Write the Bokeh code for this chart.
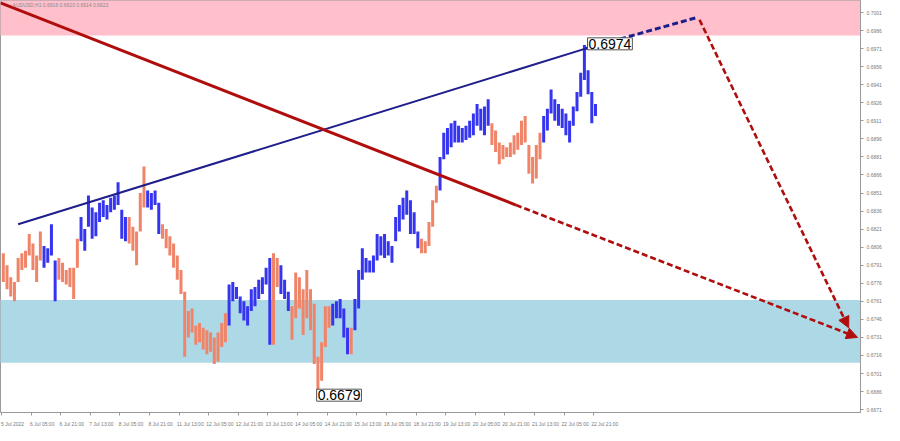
from bokeh.plotting import figure
from bokeh.models import Range1d, FixedTicker, Label, Arrow, NormalHead, PrintfTickFormatter
from bokeh.embed import file_html
from bokeh.resources import INLINE

# ---- price data (AUDUSD, 2-hour bars) ----
bar_high = [0.6801, 0.6791, 0.6781, 0.6777, 0.6797, 0.6801, 0.6803, 0.6817, 0.6809, 0.6799,
            0.6819, 0.6807, 0.6805, 0.6825, 0.6795, 0.6797, 0.6793, 0.6787, 0.6789, 0.6789,
            0.6813, 0.6831, 0.6821, 0.6849, 0.6839, 0.6835, 0.6843, 0.6845, 0.6841, 0.6847,
            0.6849, 0.6860, 0.6837, 0.6831, 0.6831, 0.6823, 0.6819, 0.6851, 0.6873, 0.6853,
            0.6851, 0.6853, 0.6843, 0.6825, 0.6821, 0.6815, 0.6809, 0.6799, 0.6787, 0.6769,
            0.6753, 0.6755, 0.6741, 0.6743, 0.6739, 0.6737, 0.6735, 0.6731, 0.6735, 0.6743,
            0.6751, 0.6775, 0.6777, 0.6773, 0.6765, 0.6761, 0.6757, 0.6771, 0.6773, 0.6779,
            0.6781, 0.6789, 0.6797, 0.6801, 0.6797, 0.6791, 0.6779, 0.6769, 0.6757, 0.6785,
            0.6781, 0.6771, 0.6787, 0.6771, 0.6759, 0.6715, 0.6727, 0.6757, 0.6757, 0.6759,
            0.6761, 0.6763, 0.6755, 0.6739, 0.6739, 0.6763, 0.6787, 0.6805, 0.6797, 0.6795,
            0.6799, 0.6817, 0.6815, 0.6817, 0.6811, 0.6807, 0.6831, 0.6841, 0.6847, 0.6853,
            0.6845, 0.6835, 0.6819, 0.6813, 0.6811, 0.6827, 0.6845, 0.6857, 0.6881, 0.6901,
            0.6905, 0.6909, 0.6911, 0.6907, 0.6905, 0.6907, 0.6911, 0.6917, 0.6925, 0.6921,
            0.6923, 0.6929, 0.6909, 0.6903, 0.6893, 0.6891, 0.6889, 0.6893, 0.6899, 0.6901,
            0.6911, 0.6915, 0.6891, 0.6881, 0.6891, 0.6901, 0.6915, 0.6921, 0.6937, 0.6929,
            0.6925, 0.6921, 0.6917, 0.6911, 0.6923, 0.6935, 0.6951, 0.6974, 0.6953, 0.6935,
            0.6925]
bar_low = [0.6777, 0.6771, 0.6765, 0.6761, 0.6777, 0.6787, 0.6789, 0.6799, 0.6787, 0.6777,
           0.6795, 0.6789, 0.6793, 0.6799, 0.6761, 0.6779, 0.6777, 0.6775, 0.6773, 0.6763,
           0.6789, 0.6811, 0.6803, 0.6823, 0.6813, 0.6815, 0.6827, 0.6831, 0.6829, 0.6835,
           0.6837, 0.6841, 0.6813, 0.6811, 0.6809, 0.6803, 0.6791, 0.6819, 0.6839, 0.6839,
           0.6837, 0.6841, 0.6817, 0.6813, 0.6805, 0.6799, 0.6789, 0.6779, 0.6767, 0.6715,
           0.6731, 0.6735, 0.6725, 0.6727, 0.6721, 0.6717, 0.6719, 0.6709, 0.6711, 0.6723,
           0.6727, 0.6741, 0.6761, 0.6763, 0.6751, 0.6745, 0.6741, 0.6753, 0.6757, 0.6763,
           0.6767, 0.6775, 0.6725, 0.6725, 0.6773, 0.6767, 0.6763, 0.6753, 0.6729, 0.6747,
           0.6755, 0.6733, 0.6747, 0.6737, 0.6709, 0.6679, 0.6695, 0.6723, 0.6739, 0.6741,
           0.6747, 0.6747, 0.6731, 0.6717, 0.6717, 0.6737, 0.6755, 0.6779, 0.6785, 0.6785,
           0.6785, 0.6795, 0.6799, 0.6797, 0.6799, 0.6793, 0.6811, 0.6819, 0.6829, 0.6833,
           0.6817, 0.6817, 0.6805, 0.6801, 0.6801, 0.6807, 0.6823, 0.6843, 0.6853, 0.6879,
           0.6883, 0.6889, 0.6893, 0.6893, 0.6893, 0.6895, 0.6897, 0.6899, 0.6907, 0.6903,
           0.6899, 0.6907, 0.6891, 0.6885, 0.6875, 0.6879, 0.6881, 0.6881, 0.6883, 0.6887,
           0.6891, 0.6893, 0.6867, 0.6859, 0.6863, 0.6879, 0.6893, 0.6903, 0.6917, 0.6911,
           0.6907, 0.6905, 0.6899, 0.6893, 0.6907, 0.6919, 0.6931, 0.6945, 0.6933, 0.6909,
           0.6915]
# wave segments: (direction, number of bars)
wave_runs = [("down", 11), ("up", 4), ("down", 6), ("up", 13), ("down", 5), ("up", 4),
             ("down", 18), ("up", 12), ("down", 2), ("up", 3), ("down", 11), ("up", 5),
             ("down", 1), ("up", 18), ("down", 5), ("up", 14), ("down", 14), ("up", 15)]

# time axis: hours from 5 Jul 2022 13:00 (trading hours only)
tick_hours = [0, 16, 32, 48, 64, 80, 96, 112, 128, 144, 160, 176, 192, 208, 224, 240,
              256, 272, 288, 304, 320]
tick_labels = ["5 Jul 2022", "6 Jul 05:00", "6 Jul 21:00", "7 Jul 13:00", "8 Jul 05:00",
               "8 Jul 21:00", "11 Jul 13:00", "12 Jul 05:00", "12 Jul 21:00", "13 Jul 13:00",
               "14 Jul 05:00", "14 Jul 21:00", "15 Jul 13:00", "18 Jul 05:00", "18 Jul 21:00",
               "19 Jul 13:00", "20 Jul 05:00", "20 Jul 21:00", "21 Jul 13:00", "22 Jul 05:00",
               "22 Jul 21:00"]
price_ticks = [0.7001, 0.6986, 0.6971, 0.6956, 0.6941, 0.6926, 0.6911, 0.6896, 0.6881,
               0.6866, 0.6851, 0.6836, 0.6821, 0.6806, 0.6791, 0.6776, 0.6761, 0.6746,
               0.6731, 0.6716, 0.6701, 0.6686, 0.6671]

# zones
resist_zone = (0.6982, 0.7020)
support_zone = (0.6710, 0.6762)

# wave lines (hour, price)
channel_pts = [(9.0, 0.6825), (315.6, 0.6971)]
channel_ext = [(315.6, 0.6971), (376.1, 0.6997)]
trend_pts = [(-0.53, 0.7009), (278.0, 0.6841)]
trend_ext = [(278.0, 0.6841), (462.6, 0.6731)]
forecast = [(377.2, 0.6995), (457.8, 0.6739)]
peak_label = (316.7, 0.6975, "0.6974")
low_label = (170.3, 0.6683, "0.6679")

# ---- figure ----
X0, X1 = -0.53, 464.2
Y0, Y1 = 0.66686, 0.7011
p = figure(frame_width=860, frame_height=412, x_range=Range1d(X0, X1),
           y_range=Range1d(Y0, Y1), output_backend="svg", toolbar_location=None,
           y_axis_location="right", min_border_left=0, min_border_top=0,
           min_border_right=24, min_border_bottom=13)
p.background_fill_color = "white"
p.border_fill_color = "white"
p.outline_line_color = "#9a9a9a"
p.grid.visible = False

p.quad(left=X0 - 5, right=X1 + 5, bottom=resist_zone[0], top=resist_zone[1],
       fill_color="#ffc0cb", line_color=None)
p.quad(left=X0 - 5, right=X1 + 5, bottom=support_zone[0], top=support_zone[1],
       fill_color="#add8e6", line_color=None)

colors = []
for d, n in wave_runs:
    colors += [("#3535f0" if d == "up" else "#f08468")] * n
hours = [2 * i + 1 for i in range(len(bar_high))]
p.segment(x0=hours, y0=bar_low, x1=hours, y1=bar_high, line_color=colors, line_width=3.0)

# lines
p.line([a for a, b in channel_pts], [b for a, b in channel_pts], line_color="#1e1e8c", line_width=2)
p.line([a for a, b in channel_ext], [b for a, b in channel_ext], line_color="#1e1e8c",
       line_width=3, line_dash="6 3")
p.line([a for a, b in trend_pts], [b for a, b in trend_pts], line_color="#b00d0d", line_width=3)
for pts in (trend_ext, forecast):
    p.add_layout(Arrow(x_start=pts[0][0], y_start=pts[0][1], x_end=pts[1][0], y_end=pts[1][1],
                       line_color="#b00d0d", line_width=2.6, line_dash="6 3",
                       end=NormalHead(size=11, fill_color="#b00d0d", line_color="#b00d0d")))

for (lx, ly, lt) in (peak_label, low_label):
    p.add_layout(Label(x=lx, y=ly, text=lt, text_font="Liberation Sans",
                       text_font_size="14px", text_color="black", text_baseline="middle",
                       background_fill_color="white", border_line_color="#555555",
                       padding=1))

p.add_layout(Label(x=6, y=0.70075, text="AUDUSD,H1  0.6916 0.6923 0.6914 0.6923",
                   text_font="Liberation Sans", text_font_size="5px",
                   text_color="#8a8a8a", text_baseline="middle"))

# axes
yax = p.yaxis[0]
yax.ticker = FixedTicker(ticks=price_ticks)
yax.formatter = PrintfTickFormatter(format="%.4f")
yax.major_label_text_font = "Liberation Sans"
yax.major_label_text_font_size = "5px"
yax.major_label_text_color = "#7a7a7a"
yax.major_label_standoff = 3
yax.axis_line_color = "#9a9a9a"
yax.major_tick_line_color = "#9a9a9a"
yax.major_tick_out = 3
yax.major_tick_in = 0
yax.minor_tick_line_color = None

xax = p.xaxis[0]
xax.ticker = FixedTicker(ticks=[h + 6 for h in tick_hours], minor_ticks=tick_hours)
xax.major_label_overrides = {h + 6: t for h, t in zip(tick_hours, tick_labels)}
xax.major_label_text_font = "Liberation Sans"
xax.major_label_text_font_size = "5px"
xax.major_label_text_color = "#7a7a7a"
xax.major_label_standoff = 2
xax.major_tick_line_color = None
xax.minor_tick_line_color = "#9a9a9a"
xax.minor_tick_out = 3
xax.minor_tick_in = 0
xax.axis_line_color = "#9a9a9a"

open("out.html", "w").write(file_html(p, INLINE))
